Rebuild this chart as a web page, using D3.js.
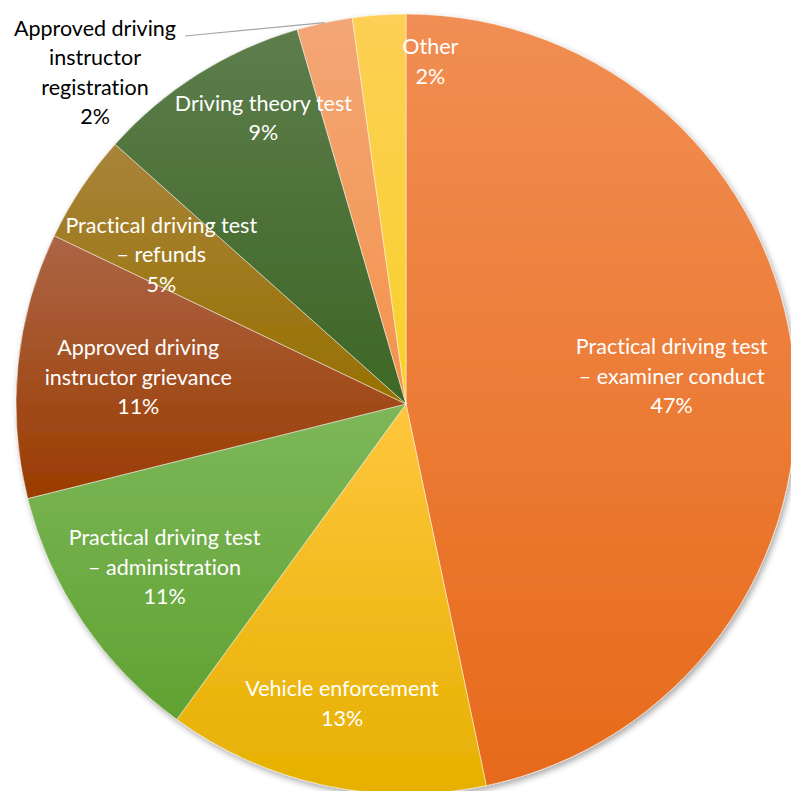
<!DOCTYPE html>
<html>
<head>
<meta charset="utf-8">
<script src="https://cdn.jsdelivr.net/npm/d3@7"></script>
<style>
  html, body { margin: 0; padding: 0; background: #fff; }
  svg { display: block; }
  text { font-family: Lato, "Open Sans", sans-serif; font-variant-ligatures: none; }
</style>
</head>
<body>
<svg id="chart" width="791" height="791"></svg>
<script>
// Complaint categories, clockwise from 12 o'clock
const categories = [
  ["Practical driving test", "– examiner conduct"],
  ["Vehicle enforcement"],
  ["Practical driving test", "– administration"],
  ["Approved driving", "instructor grievance"],
  ["Practical driving test", "– refunds"],
  ["Driving theory test"],
  ["Approved driving", "instructor", "registration"],
  ["Other"]
];
// Share of complaints (%)
const values = [46.7, 13.3, 11.1, 11.0, 4.5, 8.9, 2.3, 2.2];
// Fill gradients per slice: [top, bottom]
const fillTop    = ["#F18E53", "#FFC63E", "#7DB75A", "#AD6546", "#A8843A", "#5D7D4C", "#F3A675", "#FDCF55"];
const fillBottom = ["#E76A1A", "#E6B000", "#61A232", "#9A3C00", "#977000", "#3D6624", "#F4934C", "#F8D12A"];

const W = 791, H = 791;
const cx = 406, cy = 404, R = 390;

// Label placement: radial fraction of R and small angular shift (radians)
const labelRadius = [0.685, 0.785, 0.747, 0.69, 0.735, 0.82, null, 0.88];
const labelShift  = [0, 0, 0, 0, -0.04, 0.10, 0, 0.14];

const svg = d3.select("#chart");
const defs = svg.append("defs");

const shadow = defs.append("filter").attr("id", "pieShadow")
  .attr("x", "-10%").attr("y", "-10%").attr("width", "125%").attr("height", "125%");
shadow.append("feDropShadow")
  .attr("dx", 2).attr("dy", 3).attr("stdDeviation", 3)
  .attr("flood-color", "#000").attr("flood-opacity", 0.35);

values.forEach((v, i) => {
  const g = defs.append("linearGradient").attr("id", "grad" + i)
    .attr("x1", 0).attr("y1", 0).attr("x2", 0).attr("y2", 1);
  g.append("stop").attr("offset", "0%").attr("stop-color", fillTop[i]);
  g.append("stop").attr("offset", "100%").attr("stop-color", fillBottom[i]);
});

const data = values.map((v, i) => ({ i, value: v, lines: categories[i] }));
const total = d3.sum(values);

const pie = d3.pie().value(d => d.value).sort(null);
const arcs = pie(data);
const arc = d3.arc().innerRadius(0).outerRadius(R);

const root = svg.append("g").attr("transform", `translate(${cx},${cy})`);

root.append("g").attr("filter", "url(#pieShadow)")
  .selectAll("path")
  .data(arcs)
  .join("path")
  .attr("d", arc)
  .attr("fill", d => `url(#grad${d.data.i})`)
  .attr("stroke", "#ffffff")
  .attr("stroke-opacity", 0.6)
  .attr("stroke-width", 0.8);

const fontSize = 21.5;
const lineH = 29.5;
const pctText = d => Math.round(d.value / total * 100) + "%";

// Inside labels
arcs.forEach(a => {
  const i = a.data.i;
  if (labelRadius[i] == null) return;
  const mid = (a.startAngle + a.endAngle) / 2 + labelShift[i];
  const r = labelRadius[i] * R;
  const x = r * Math.sin(mid), y = -r * Math.cos(mid);
  const lines = a.data.lines.concat([pctText(a.data)]);
  const t = root.append("text")
    .attr("text-anchor", "middle")
    .attr("fill", "#ffffff")
    .attr("font-size", fontSize);
  lines.forEach((ln, k) => {
    t.append("tspan")
      .attr("x", x)
      .attr("y", y + (k - (lines.length - 1) / 2) * lineH)
      .attr("dy", "0.35em")
      .text(ln);
  });
});

// Outside label with leader line
arcs.forEach(a => {
  const i = a.data.i;
  if (labelRadius[i] != null) return;
  const mid = (a.startAngle + a.endAngle) / 2;
  const ex = R * Math.sin(mid), ey = -R * Math.cos(mid);
  const lx = 95 - cx, ly0 = 28 - cy;
  root.append("polyline")
    .attr("points", [[ex, ey], [lx + 90, ly0 + 8]].map(p => p.join(",")).join(" "))
    .attr("fill", "none")
    .attr("stroke", "#A6A6A6")
    .attr("stroke-width", 1.2);
  const lines = a.data.lines.concat([pctText(a.data)]);
  const t = root.append("text")
    .attr("text-anchor", "middle")
    .attr("fill", "#000000")
    .attr("font-size", fontSize);
  lines.forEach((ln, k) => {
    t.append("tspan")
      .attr("x", lx)
      .attr("y", ly0 + k * lineH)
      .attr("dy", "0.35em")
      .text(ln);
  });
});
</script>
</body>
</html>
